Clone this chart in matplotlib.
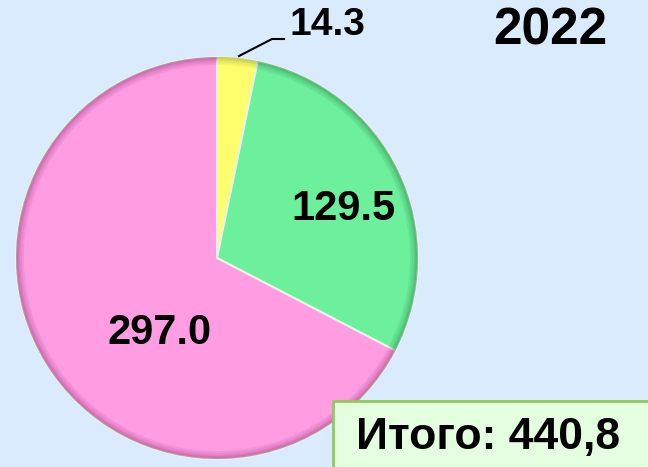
import matplotlib
matplotlib.use("Agg")
import matplotlib.pyplot as plt
from matplotlib.patches import FancyBboxPatch

plt.rcParams['font.family'] = ['Liberation Sans', 'DejaVu Sans']
plt.rcParams['font.weight'] = 'bold'

# data
labels = ["14.3", "129.5", "297.0"]
values = [14.3, 129.5, 297.0]
colors = ["#FFFF6E", "#6CF09C", "#FF9CE2"]
shade_colors = ["#9A9A20", "#1E7A40", "#8A306E"]
year = "2022"
total_text = "Итого: 440,8"

W, H = 648, 467
fig = plt.figure(figsize=(W / 100, H / 100), dpi=100)
fig.patch.set_facecolor("#DBEBFE")
ax = fig.add_axes([0, 0, 1, 1])

cx, cy, r = 217, H - 258, 201

wedges, _ = ax.pie(values, colors=colors, startangle=90, counterclock=False,
                   center=(cx, cy), radius=r, frame=True,
                   wedgeprops=dict(linewidth=1.5, edgecolor="#E8F4E8"))
# soft darker rim to imitate the bevelled look
for rim in [8, 6, 4, 3, 2, 1]:
    ax.pie(values, colors=shade_colors, startangle=90, counterclock=False,
           center=(cx, cy), radius=r, frame=True,
           wedgeprops=dict(width=rim, linewidth=0, alpha=0.1))
ax.set_xlim(0, W)
ax.set_ylim(0, H)
ax.set_aspect("equal")
ax.axis("off")

# value labels
ax.text(343, H - 209, labels[1], fontsize=30, fontweight="bold",
        ha="center", va="center")
ax.text(160, H - 333, labels[2], fontsize=30, fontweight="bold",
        ha="center", va="center")
ax.text(327, H - 25, labels[0], fontsize=28, fontweight="bold",
        ha="center", va="center")
# leader line for the small slice
ax.plot([239, 272, 284], [H - 56, H - 39, H - 39], color="black", lw=1.5)

ax.text(550, H - 31, year, fontsize=37, fontweight="bold",
        ha="center", va="center")

# total box
box = FancyBboxPatch((333, H - 470), 330, 69, boxstyle="square,pad=0",
                     facecolor="#E4FEE0", edgecolor="#8CCB5A", lw=2)
ax.add_patch(box)
ax.text(488, H - 437, total_text, fontsize=32, fontweight="bold",
        ha="center", va="center")

fig.savefig("out.png", dpi=100, facecolor=fig.get_facecolor())
